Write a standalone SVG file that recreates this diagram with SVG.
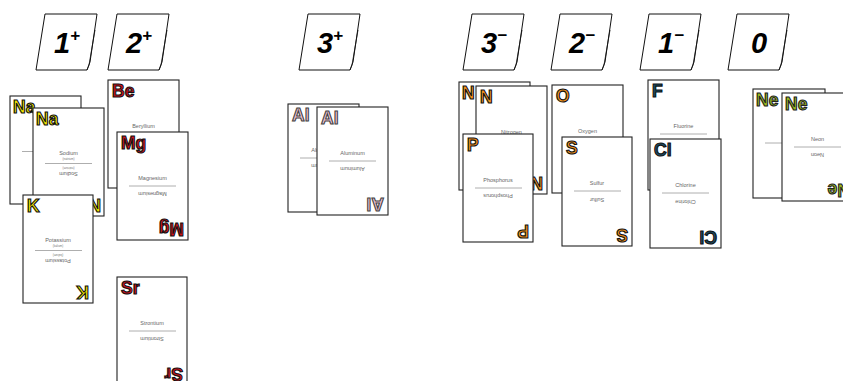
<svg xmlns="http://www.w3.org/2000/svg" width="843" height="381" viewBox="0 0 843 381">
<style>
.bg{fill:#fff}
.hc{fill:#fff;stroke:#111;stroke-width:1;stroke-linejoin:round}
.hl{fill:none;stroke:#111;stroke-width:0.8}
.ht{font-family:"Liberation Sans",Arial,sans-serif;font-weight:bold;font-style:italic;font-size:29px;fill:#000;text-anchor:middle}
.sup{font-size:17px}
.card{fill:#fff;stroke:#222;stroke-width:1.1}
.sym{font-family:"Liberation Sans",Arial,sans-serif;font-weight:bold;font-size:17.5px;stroke:#111;stroke-width:1.1}
.nm{font-family:"Liberation Sans",Arial,sans-serif;font-size:5.5px;fill:#666;text-anchor:middle}
.sb{font-family:"Liberation Sans",Arial,sans-serif;font-size:3px;fill:#777;text-anchor:middle}
.ln{stroke:#999;stroke-width:0.8}
.yel{fill:#f2e600}
.red{fill:#d3121c}
.pnk{fill:#f6c6d6;stroke:#444}
.org{fill:#f7941d}
.blu{fill:#1a4d66}
.grn{fill:#9cbf1e;stroke:#222}
</style>
<defs>
<g id="hcard">
<path class="hc" d="M9,0 H61 L54,48 L51,56 H0 Z"/>
<path class="hl" d="M59,16 L53,51 L51,56"/>
</g>
</defs>
<rect class="bg" x="0" y="0" width="843" height="381"/>
<g id="headers">
<g id="h-1p" transform="translate(36,14)"><use href="#hcard"/><text class="ht" x="31" y="39">1<tspan class="sup" dy="-12">+</tspan></text></g>
<g id="h-2p" transform="translate(108,14)"><use href="#hcard"/><text class="ht" x="31" y="39">2<tspan class="sup" dy="-12">+</tspan></text></g>
<g id="h-3p" transform="translate(299,14)"><use href="#hcard"/><text class="ht" x="31" y="39">3<tspan class="sup" dy="-12">+</tspan></text></g>
<g id="h-3m" transform="translate(463,14)"><use href="#hcard"/><text class="ht" x="31" y="39">3<tspan class="sup" dy="-12">−</tspan></text></g>
<g id="h-2m" transform="translate(551,14)"><use href="#hcard"/><text class="ht" x="31" y="39">2<tspan class="sup" dy="-12">−</tspan></text></g>
<g id="h-1m" transform="translate(640,14)"><use href="#hcard"/><text class="ht" x="31" y="39">1<tspan class="sup" dy="-12">−</tspan></text></g>
<g id="h-0" transform="translate(728,14)"><use href="#hcard"/><text class="ht" x="31" y="39">0</text></g>
</g>
<g id="connectors"/>

<g id="card-na-back" transform="translate(10,96)">
<rect class="card" width="71" height="108"/>
<text class="sym yel" x="3" y="17">Na</text>
<line class="ln" x1="12" y1="55.5" x2="59" y2="55.5"/>
</g>
<g id="card-na-front" transform="translate(33,108)">
<rect class="card" width="71" height="108"/>
<text class="sym yel" x="3" y="17">Na</text>
<text class="nm" x="35.5" y="46.8">Sodium</text><text class="sb" x="35.5" y="52">(natrium)</text>
<line class="ln" x1="12" y1="55.5" x2="59" y2="55.5"/>
<g transform="rotate(180 35.5 55.5)"><text class="nm" x="35.5" y="46.8">Sodium</text><text class="sb" x="35.5" y="52">(natrium)</text></g>
<text class="sym yel" x="3" y="17" transform="rotate(180 35.5 54)">Na</text>
</g>
<g id="card-k" transform="translate(23,195)">
<rect class="card" width="70" height="108"/>
<text class="sym yel" x="4" y="17">K</text>
<text class="nm" x="35" y="46.8">Potassium</text><text class="sb" x="35" y="52">(kalium)</text>
<line class="ln" x1="12" y1="55.5" x2="59" y2="55.5"/>
<g transform="rotate(180 35 55.5)"><text class="nm" x="35" y="46.8">Potassium</text><text class="sb" x="35" y="52">(kalium)</text></g>
<text class="sym yel" x="4" y="17" transform="rotate(180 35 54)">K</text>
</g>

<g id="card-be" transform="translate(108,80)">
<rect class="card" width="71" height="108"/>
<text class="sym red" x="4" y="17">Be</text>
<text class="nm" x="35.5" y="48">Beryllium</text>
</g>
<g id="card-mg" transform="translate(117,132)">
<rect class="card" width="71" height="108"/>
<text class="sym red" x="4" y="17">Mg</text>
<text class="nm" x="35.5" y="48">Magnesium</text>
<line class="ln" x1="12" y1="54" x2="59" y2="54"/>
<g transform="rotate(180 35.5 54)"><text class="nm" x="35.5" y="48">Magnesium</text><text class="sym red" x="4" y="17">Mg</text></g>
</g>
<g id="card-sr" transform="translate(117,277)">
<rect class="card" width="70" height="108"/>
<text class="sym red" x="4" y="17">Sr</text>
<text class="nm" x="35" y="48">Strontium</text>
<line class="ln" x1="12" y1="54" x2="59" y2="54"/>
<g transform="rotate(180 35 54)"><text class="nm" x="35" y="48">Strontium</text><text class="sym red" x="4" y="17">Sr</text></g>
</g>

<g id="card-al-back" transform="translate(288,104)">
<rect class="card" width="71" height="108"/>
<text class="sym pnk" x="4" y="17">Al</text>
<text class="nm" x="35.5" y="48">Aluminum</text>
<line class="ln" x1="12" y1="54" x2="59" y2="54"/>
<g transform="rotate(180 35.5 54)"><text class="nm" x="35.5" y="48">Aluminum</text></g>
</g>
<g id="card-al-front" transform="translate(317,107)">
<rect class="card" width="71" height="108"/>
<text class="sym pnk" x="4" y="17">Al</text>
<text class="nm" x="35.5" y="48">Aluminum</text>
<line class="ln" x1="12" y1="54" x2="59" y2="54"/>
<g transform="rotate(180 35.5 54)"><text class="nm" x="35.5" y="48">Aluminum</text><text class="sym pnk" x="4" y="17">Al</text></g>
</g>

<g id="card-n-back" transform="translate(459,82)">
<rect class="card" width="71" height="108"/>
<text class="sym org" x="3" y="17">N</text>
</g>
<g id="card-n-front" transform="translate(476,86)">
<rect class="card" width="71" height="108"/>
<text class="sym org" x="4" y="17">N</text>
<text class="nm" x="35.5" y="48">Nitrogen</text>
<text class="sym org" x="4" y="17" transform="rotate(180 35.5 54)">N</text>
</g>
<g id="card-p" transform="translate(463,134)">
<rect class="card" width="70" height="108"/>
<text class="sym org" x="4" y="17">P</text>
<text class="nm" x="35" y="48">Phosphorus</text>
<line class="ln" x1="12" y1="54" x2="59" y2="54"/>
<g transform="rotate(180 35 54)"><text class="nm" x="35" y="48">Phosphorus</text><text class="sym org" x="4" y="17">P</text></g>
</g>

<g id="card-o" transform="translate(552,85)">
<rect class="card" width="71" height="108"/>
<text class="sym org" x="4" y="17">O</text>
<text class="nm" x="35.5" y="48">Oxygen</text>
</g>
<g id="card-s" transform="translate(562,137)">
<rect class="card" width="70" height="109"/>
<text class="sym org" x="4" y="17">S</text>
<text class="nm" x="35" y="48">Sulfur</text>
<line class="ln" x1="12" y1="54" x2="59" y2="54"/>
<g transform="rotate(180 35 54.5)"><text class="nm" x="35" y="48">Sulfur</text><text class="sym org" x="4" y="17">S</text></g>
</g>

<g id="card-f" transform="translate(648,80)">
<rect class="card" width="71" height="110"/>
<text class="sym blu" x="4" y="17">F</text>
<text class="nm" x="35.5" y="48">Fluorine</text>
<line class="ln" x1="12" y1="54" x2="59" y2="54"/>
</g>
<g id="card-cl" transform="translate(650,139)">
<rect class="card" width="71" height="109"/>
<text class="sym blu" x="4" y="17">Cl</text>
<text class="nm" x="35.5" y="48">Chlorine</text>
<line class="ln" x1="12" y1="54" x2="59" y2="54"/>
<g transform="rotate(180 35.5 54.5)"><text class="nm" x="35.5" y="48">Chlorine</text><text class="sym blu" x="4" y="17">Cl</text></g>
</g>

<g id="card-ne-back" transform="translate(753,89)">
<rect class="card" width="72" height="109"/>
<text class="sym grn" x="3" y="17">Ne</text>
<line class="ln" x1="12" y1="54" x2="60" y2="54"/>
</g>
<g id="card-ne-front" transform="translate(782,93)">
<rect class="card" width="71" height="108"/>
<text class="sym grn" x="3" y="17">Ne</text>
<text class="nm" x="35.5" y="48">Neon</text>
<line class="ln" x1="12" y1="54" x2="59" y2="54"/>
<g transform="rotate(180 35.5 54)"><text class="nm" x="35.5" y="48">Neon</text><text class="sym grn" x="3" y="17">Ne</text></g>
</g>
</svg>
